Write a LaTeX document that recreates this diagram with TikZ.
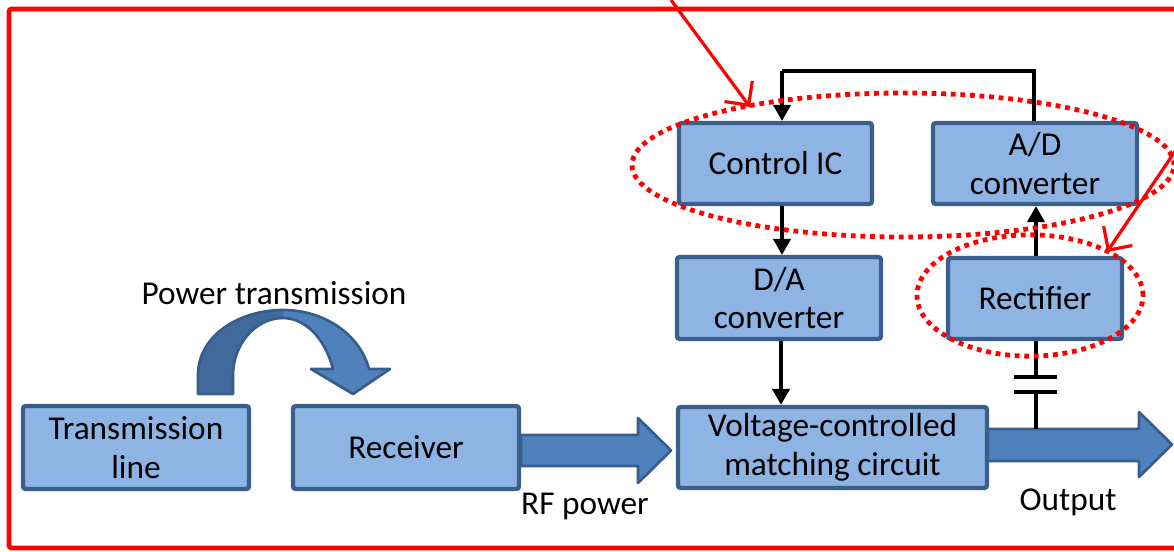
\documentclass[tikz,border=0pt]{standalone}
\usepackage{fontspec}
\setmainfont{Carlito}
\usetikzlibrary{arrows.meta,calc}
\definecolor{boxfill}{HTML}{8EB4E3}
\definecolor{boxline}{HTML}{3A5F8B}
\definecolor{arrfill}{HTML}{4F81BD}
\definecolor{arrdark}{HTML}{41699B}
\definecolor{arrline}{HTML}{385D8A}
\definecolor{frame}{HTML}{FF0000}
\tikzset{
  box/.style={draw=boxline, fill=boxfill, line width=3.2pt, rounded corners=2pt,
    align=center, font=\fontsize{25}{29}\selectfont, inner sep=0pt},
  blk/.style={line width=2.4pt, -{Triangle[length=12pt,width=13pt]}},
  wire/.style={line width=2.4pt},
  plate/.style={line width=3pt},
  bigarrow/.style={fill=arrfill, draw=arrline, line width=2pt, line join=round},
  redarrow/.style={draw=frame, line width=2.4pt, -{Straight Barb[length=13pt,width=26pt,line width=2.4pt]}},
  redring/.style={draw=frame, line width=3.6pt, dash pattern=on 3.6pt off 3.6pt},
  lbl/.style={font=\fontsize{25}{29}\selectfont, inner sep=0pt}
}
\begin{document}
\begin{tikzpicture}[x=0.75pt,y=-0.75pt]
\useasboundingbox (0,0) rectangle (1174,552);
\clip (0,0) rectangle (1174,552);
% red frame
\draw[draw=frame, line width=3.6pt, rounded corners=2pt] (1200,9) -- (9,9) -- (9,548) -- (1200,548);

% big arrows (behind boxes)
\draw[bigarrow] (521,435) -- (638,435) -- (638,418) -- (671,450.5) -- (638,483) -- (638,466) -- (521,466) -- cycle;
\draw[bigarrow] (985,429) -- (1139,429) -- (1139,412) -- (1172,444.5) -- (1139,477) -- (1139,461) -- (985,461) -- cycle;

% curved arrow (power transmission)
\path[fill=arrfill] (198,394) -- (198,375) .. controls (198,335) and (240,310) .. (283,310)
   .. controls (325,310) and (360,335) .. (369,369) -- (390,369) -- (353,394) -- (311,369) -- (333,369)
   .. controls (325,338) and (305,318) .. (283,318) .. controls (255,318) and (233,345) .. (233,375)
   -- (233,394) -- cycle;
\begin{scope}
\clip (150,300) rectangle (283,400);
\path[fill=arrdark] (198,394) -- (198,375) .. controls (198,335) and (240,310) .. (283,310)
   -- (283,318) .. controls (255,318) and (233,345) .. (233,375) -- (233,394) -- cycle;
\end{scope}
\draw[draw=arrline, line width=2pt, line join=round] (198,394) -- (198,375) .. controls (198,335) and (240,310) .. (283,310)
   .. controls (325,310) and (360,335) .. (369,369) -- (390,369) -- (353,394) -- (311,369) -- (333,369)
   .. controls (325,338) and (305,318) .. (283,318) .. controls (255,318) and (233,345) .. (233,375)
   -- (233,394) -- cycle;

% boxes
\node[box, minimum width=144.75pt, minimum height=60.75pt] (ctrl) at (775.5,163.5) {Control IC};
\node[box, minimum width=153pt, minimum height=60.75pt] (ad) at (1035,163.5) {A/D\\converter};
\node[box, minimum width=153pt, minimum height=61.5pt] (da) at (779,298) {D/A\\converter};
\node[box, minimum width=130.5pt, minimum height=60.75pt] (rect) at (1035,298.5) {Rectifier};
\node[box, minimum width=231.75pt, minimum height=60.75pt] (vcmc) at (832.5,447.5) {Voltage-controlled\\matching circuit};
\node[box, minimum width=169.5pt, minimum height=62.25pt] (tl) at (136,447.5) {Transmission\\line};
\node[box, minimum width=169.5pt, minimum height=62.25pt] (rx) at (406,447.5) {Receiver};

% labels
\node[lbl] (ptl) at (274,293) {Power transmission};
\node[lbl] (rfl) at (585,506) {RF power};
\node[lbl] (outl) at (1068,502) {Output};

% black connectors
\coordinate (fbr) at (1034,71);
\coordinate (fbl) at (782,71);
\draw[wire] (ad.north -| fbr) -- (fbr) -- (fbl);
\draw[blk] (fbl) -- (fbl |- ctrl.north);
\draw[blk] (ctrl.south -| fbl) -- (da.north -| fbl);
\draw[blk] (da.south -| 781,0) -- (vcmc.north -| 781,0);
\draw[blk] (rect.north -| 1036,0) -- (ad.south -| 1036,0);

% capacitor
\coordinate (c1) at (1036,377);
\coordinate (c2) at (1036,392);
\coordinate (cb) at (1036,429);
\draw[wire] (rect.south -| c1) -- (c1);
\draw[plate] ($(c1)+(-22,0)$) -- ($(c1)+(21,0)$);
\draw[plate] ($(c2)+(-22,0)$) -- ($(c2)+(21,0)$);
\draw[wire] (c2) -- (cb);

% red dotted rings
\draw[redring] (903,165) ellipse [x radius=203.25pt, y radius=54pt];
\draw[redring] (1030,295.5) ellipse [x radius=84.75pt, y radius=45.5pt];

% red pointer arrows
\coordinate (r1s) at (671,0);
\coordinate (r1e) at (750,107);
\coordinate (r2s) at (1178,147);
\coordinate (r2e) at (1107,252);
\draw[redarrow] (r1s) -- (r1e);
\draw[redarrow] (r2s) -- (r2e);
\end{tikzpicture}
\end{document}
